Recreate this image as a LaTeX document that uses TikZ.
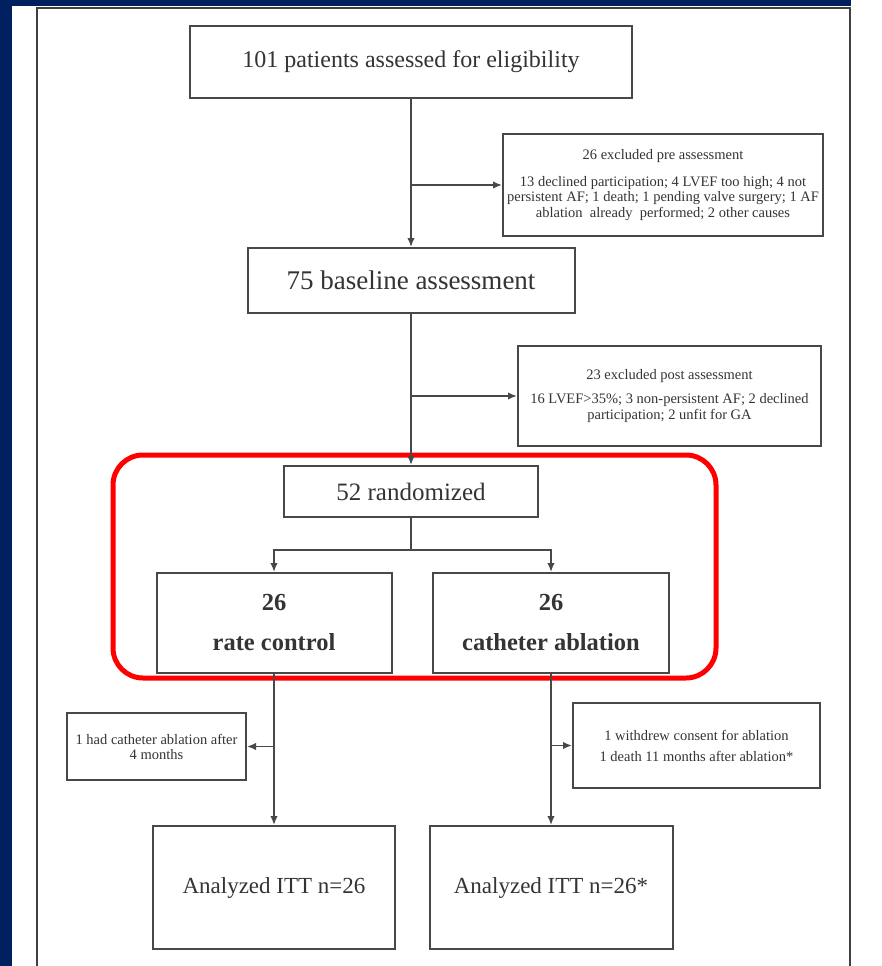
\documentclass[tikz,border=0pt]{standalone}
\usepackage{fontspec}
\setmainfont{Liberation Serif}
\usetikzlibrary{arrows.meta, positioning}
\definecolor{slidenavy}{RGB}{0,32,96}
\definecolor{boxgray}{RGB}{72,72,72}
\definecolor{inkgray}{RGB}{52,52,52}
\definecolor{highlightred}{RGB}{255,0,0}

\begin{document}
\begin{tikzpicture}[x=1pt, y=-1pt,
  stage/.style={draw=boxgray, line width=2pt, fill=white, inner sep=0pt, text=inkgray, align=center},
  bigtext/.style={font=\fontsize{24}{28}\selectfont},
  armtext/.style={font=\bfseries\fontsize{24.5}{40}\selectfont},
  note/.style={font=\fontsize{14.5}{15.5}\selectfont},
  flow/.style={-{Latex[length=9pt, width=7.5pt]}, line width=1.6pt, boxgray},
  link/.style={line width=1.6pt, boxgray}
]
\useasboundingbox (0,0) rectangle (881,966);
% slide background and panel frame
\fill[white] (0,0) rectangle (881,966);
\fill[slidenavy] (0,0) rectangle (851,6.5);
\fill[slidenavy] (0,0) rectangle (12,966);
\draw[line width=2pt, black!75] (37,966) -- (37,8.5) -- (849.5,8.5) -- (849.5,966);

% highlight round the randomisation
\draw[highlightred, line width=5pt, rounded corners=30pt] (113,455) rectangle (716,678);

% main boxes
\node[stage, bigtext, minimum width=442pt, minimum height=72pt] (elig) at (411,62)
  {101 patients assessed for eligibility};
\node[stage, note, minimum width=320pt, minimum height=102pt] (preexcl) at (663,185)
  {26 excluded pre assessment\\[11pt]13 declined participation; 4 LVEF too high; 4 not\\
   persistent AF; 1 death; 1 pending valve surgery; 1 AF\\ablation~ already~ performed; 2 other causes};
\node[stage, font=\fontsize{27}{30}\selectfont, minimum width=327pt, minimum height=65pt] (baseline) at (411,280.5)
  {75 baseline assessment};
\node[stage, note, minimum width=303pt, minimum height=100pt] (postexcl) at (669.5,396)
  {23 excluded post assessment\\[9pt]16 LVEF>35\%; 3 non-persistent AF; 2 declined\\participation; 2 unfit for GA};
\node[stage, font=\fontsize{25}{28}\selectfont, minimum width=254pt, minimum height=51pt] (rand) at (411,491.5)
  {52 randomized};

% the two arms
\node[stage, armtext, minimum width=235pt, minimum height=100pt] (rate) at (274,623)
  {26\\rate control};
\node[stage, armtext, minimum width=236pt, minimum height=100pt] (cath) at (551,623)
  {26\\catheter ablation};
\node[stage, note, font=\fontsize{14.5}{15}\selectfont, minimum width=179pt, minimum height=67pt] (ratedrop) at (156.5,746.5)
  {1 had catheter ablation after\\4 months};
\node[stage, note, font=\fontsize{14.5}{21}\selectfont, minimum width=247pt, minimum height=85pt] (cathdrop) at (696.5,745.5)
  {1 withdrew consent for ablation\\1 death 11 months after ablation*};
\node[stage, font=\fontsize{23}{28}\selectfont, minimum width=242pt, minimum height=123pt] (rateitt) at (274,887.5)
  {Analyzed ITT n=26};
\node[stage, font=\fontsize{23}{28}\selectfont, minimum width=243pt, minimum height=123pt] (cathitt) at (551,887.5)
  {Analyzed ITT n=26*};

% connectors
\coordinate (precut) at (elig.south |- preexcl.west);
\coordinate (postcut) at (baseline.south |- postexcl.west);
\coordinate (split) at (411,550);
\coordinate (ratecut) at (rate.south |- ratedrop.east);
\coordinate (cathcut) at (cath.south |- cathdrop.west);

\draw[flow] (elig) -- (baseline);
\draw[flow] (precut) -- (preexcl.west);
\draw[flow] (baseline) -- (rand);
\draw[flow] (postcut) -- (postexcl.west);
\draw[link] (rand.south) -- (split);
\draw[flow] (split) -| (rate.north);
\draw[flow] (split) -| (cath.north);
\draw[flow] (rate) -- (rateitt);
\draw[flow] (ratecut) -- (ratedrop.east);
\draw[flow] (cath) -- (cathitt);
\draw[flow] (cathcut) -- (cathdrop.west);
\end{tikzpicture}
\end{document}
